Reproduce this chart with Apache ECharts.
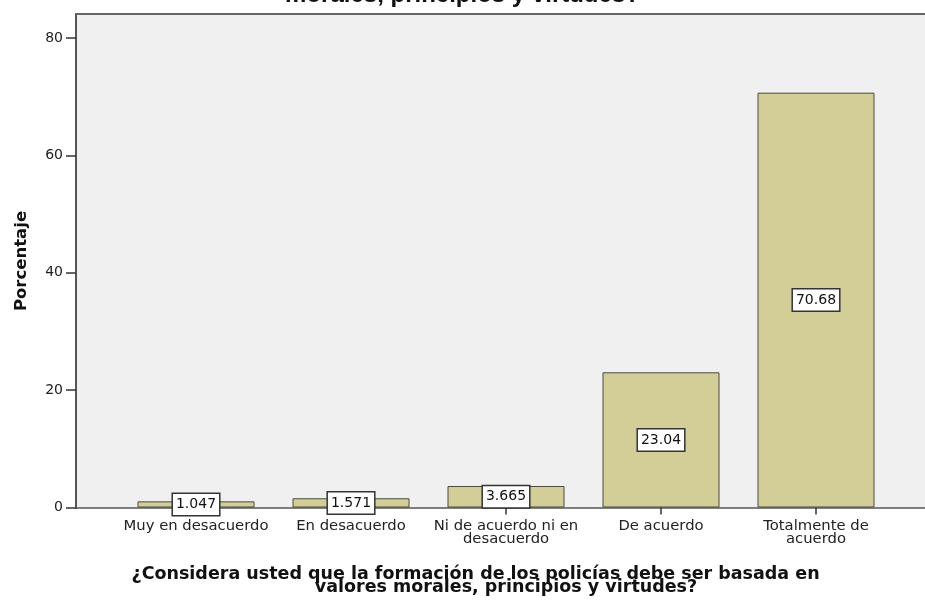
<!DOCTYPE html>
<html>
<head>
<meta charset="utf-8">
<script src="https://cdn.jsdelivr.net/npm/echarts@6/dist/echarts.min.js"></script>
<style>html,body{margin:0;padding:0;background:#fff}#c{width:925px;height:601px}</style>
</head>
<body>
<div id="c"></div>
<script>
const categories = ['Muy en desacuerdo', 'En desacuerdo', 'Ni de acuerdo ni en\ndesacuerdo', 'De acuerdo', 'Totalmente de\nacuerdo'];
const values = [1.047, 1.571, 3.665, 23.04, 70.68];
const yTicks = [0, 20, 40, 60, 80];
const titleText = 'morales, principios y virtudes?';
const xName = '¿Considera usted que la formación de los policías debe ser basada en          \nvalores morales, principios y virtudes?';
const yName = 'Porcentaje';

const chart = echarts.init(document.getElementById('c'), null, {renderer: 'canvas'});
const axisCol = '#555';
chart.setOption({
  animation: false,
  title: {
    text: titleText, left: 'center', top: -22,
    textStyle: {fontFamily: 'Liberation Sans', fontWeight: 'bold', fontSize: 24, color: '#111'}
  },
  grid: [
    {left: 76, right: 0, top: 14, bottom: 93, show: true, backgroundColor: '#f0f0f0', borderWidth: 0},
    {left: 118.5, right: 31.5, top: 38, bottom: 93}
  ],
  xAxis: [
    {gridIndex: 0, type: 'value', min: 0, max: 1, position: 'bottom',
     axisLine: {show: true, lineStyle: {color: axisCol, width: 1.5}}, axisTick: {show: false}, axisLabel: {show: false}, splitLine: {show: false}},
    {gridIndex: 0, type: 'value', min: 0, max: 1, position: 'top',
     axisLine: {show: true, lineStyle: {color: '#666', width: 2}}, axisTick: {show: false}, axisLabel: {show: false}, splitLine: {show: false}},
    {gridIndex: 1, type: 'category', data: categories,
     axisLine: {show: false},
     axisTick: {show: true, alignWithLabel: true, length: 7, lineStyle: {color: '#333', width: 1.5}},
     axisLabel: {margin: 12, fontFamily: 'DejaVu Sans', fontSize: 14.8, color: '#222', lineHeight: 13, interval: 0},
     name: xName, nameLocation: 'middle', nameGap: 60,
     nameTextStyle: {fontFamily: 'DejaVu Sans', fontWeight: 'bold', fontSize: 17.5, color: '#111', lineHeight: 13}}
  ],
  yAxis: [
    {gridIndex: 0, type: 'value', min: 0, max: 1,
     axisLine: {show: true, lineStyle: {color: axisCol, width: 2}}, axisTick: {show: false}, axisLabel: {show: false}, splitLine: {show: false},
     name: yName, nameLocation: 'middle', nameGap: 46, nameRotate: 90,
     nameTextStyle: {fontFamily: 'DejaVu Sans', fontWeight: 'bold', fontSize: 16.5, color: '#111'}},
    {gridIndex: 1, type: 'value', min: yTicks[0], max: yTicks[yTicks.length - 1], interval: 20, offset: 42.5,
     axisLine: {show: false},
     axisTick: {show: true, length: 10, lineStyle: {color: '#333', width: 1.5}},
     axisLabel: {margin: 13, fontFamily: 'DejaVu Sans', fontSize: 14, color: '#222'},
     splitLine: {show: false}}
  ],
  series: [{
    type: 'bar', xAxisIndex: 2, yAxisIndex: 1, data: values, barWidth: 117,
    itemStyle: {color: '#d3ce98', borderColor: '#4a4a40', borderWidth: 1},
    label: {show: true, position: 'inside', formatter: p => String(p.value),
      fontFamily: 'DejaVu Sans', fontSize: 14, color: '#111',
      backgroundColor: '#fff', borderColor: '#333', borderWidth: 1.5, padding: [4, 3, 3, 3]}
  }]
});
</script>
</body>
</html>
